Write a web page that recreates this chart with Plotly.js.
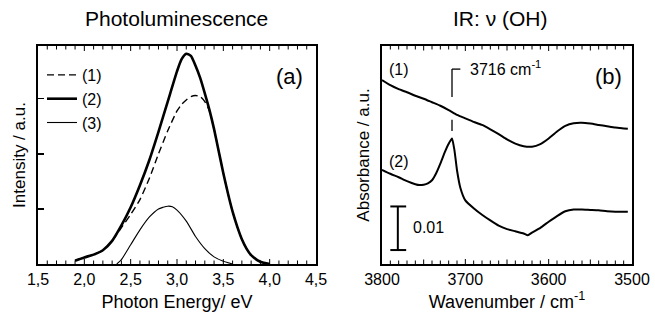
<!DOCTYPE html>
<html>
<head>
<meta charset="utf-8">
<script src="https://cdn.plot.ly/plotly-3.0.1.min.js"></script>
<style>html,body{margin:0;padding:0;background:#fff;}#plot{width:655px;height:322px;}</style>
</head>
<body>
<div id="plot"></div>
<script>
// ---- Panel (a): Photoluminescence ----
const plEnergy2 = [1.90,2.00,2.10,2.20,2.30,2.40,2.50,2.60,2.70,2.80,2.90,3.00,3.05,3.10,3.15,3.20,3.25,3.30,3.35,3.40,3.45,3.50,3.55,3.60,3.65,3.70,3.75,3.80,3.90,4.00];
const plCurve2  = [0.06,0.12,0.17,0.25,0.42,0.70,1.03,1.43,1.88,2.40,2.95,3.50,3.72,3.82,3.78,3.60,3.38,3.10,2.80,2.45,2.05,1.65,1.28,0.95,0.68,0.45,0.28,0.16,0.04,0.00];
const plEnergy1 = [1.90,2.00,2.10,2.20,2.30,2.40,2.50,2.60,2.70,2.80,2.90,3.00,3.05,3.10,3.15,3.20,3.25,3.30,3.35,3.40,3.45,3.50,3.55,3.60,3.65,3.70,3.75,3.80,3.90,4.00];
const plCurve1  = [0.06,0.12,0.17,0.25,0.42,0.66,0.90,1.17,1.55,2.00,2.42,2.78,2.90,2.98,3.04,3.06,3.04,2.95,2.78,2.45,2.05,1.65,1.28,0.95,0.68,0.45,0.28,0.16,0.04,0.00];
const plEnergy3 = [2.35,2.40,2.50,2.60,2.70,2.80,2.85,2.90,2.95,3.00,3.10,3.20,3.30,3.40,3.50,3.60];
const plCurve3  = [0.00,0.08,0.35,0.62,0.85,1.00,1.03,1.05,1.04,0.98,0.78,0.50,0.28,0.13,0.05,0.00];
const plLabels  = ["(1)","(2)","(3)"];
const energyTickVals   = [1.5,2.0,2.5,3.0,3.5,4.0,4.5];
const energyTickLabels = ["1,5","2,0","2,5","3,0","3,5","4,0","4,5"];

// ---- Panel (b): IR nu(OH) ----
const irWave1 = [3800,3790,3780,3770,3760,3750,3740,3730,3720,3710,3700,3690,3680,3670,3660,3650,3640,3630,3620,3610,3600,3590,3580,3570,3560,3550,3540,3530,3520,3510,3505];
const irAbs1  = [0.0422,0.0410,0.0401,0.0394,0.0386,0.0379,0.0371,0.0363,0.0353,0.0342,0.0334,0.0326,0.0319,0.0309,0.0298,0.0286,0.0276,0.0270,0.0269,0.0275,0.0288,0.0304,0.0317,0.0323,0.0324,0.0322,0.0319,0.0316,0.0313,0.0311,0.0310];
const irWave2 = [3800,3790,3780,3770,3760,3755,3750,3745,3740,3735,3730,3725,3720,3716,3713,3710,3706,3700,3690,3680,3670,3660,3650,3640,3630,3625,3620,3610,3600,3590,3580,3570,3560,3550,3540,3530,3520,3505];
const irAbs2  = [0.0216,0.0207,0.0199,0.0190,0.0183,0.0181,0.0182,0.0185,0.0192,0.0208,0.0230,0.0255,0.0276,0.0288,0.0260,0.0215,0.0175,0.0146,0.0128,0.0113,0.0100,0.0088,0.0080,0.0075,0.0070,0.0066,0.0072,0.0083,0.0097,0.0110,0.0121,0.0125,0.0125,0.0124,0.0123,0.0121,0.0120,0.0120];
const waveTickVals   = [3800,3700,3600,3500];
const waveTickLabels = ["3800","3700","3600","3500"];
const peakWave = 3716;
const scaleBar = 0.01;

const FONT = "Liberation Sans, Arial, Helvetica, sans-serif";

// minor subdivisions between labelled ticks
function subdivide(vals, nSub) {
  const out = [];
  for (let i = 0; i < vals.length - 1; i++) {
    const step = (vals[i+1] - vals[i]) / nSub;
    for (let k = 1; k < nSub; k++) out.push({v: +(vals[i] + k*step).toFixed(4), half: (2*k === nSub)});
  }
  return out;
}
const eMinor = subdivide(energyTickVals, 5);
const wMinor = subdivide(waveTickVals, 10);

const traces = [
  {x: plEnergy1, y: plCurve1, xaxis:'x', yaxis:'y', mode:'lines', name: plLabels[0],
   line:{color:'#000', width:1.4, dash:'7px,4px', shape:'spline', smoothing:0.6}},
  {x: plEnergy2, y: plCurve2, xaxis:'x', yaxis:'y', mode:'lines', name: plLabels[1],
   line:{color:'#000', width:2.6, shape:'spline', smoothing:0.6}},
  {x: plEnergy3, y: plCurve3, xaxis:'x', yaxis:'y', mode:'lines', name: plLabels[2],
   line:{color:'#000', width:1.1, shape:'spline', smoothing:0.6}},
  {x: irWave1, y: irAbs1, xaxis:'x2', yaxis:'y2', mode:'lines', showlegend:false,
   line:{color:'#000', width:2, shape:'spline', smoothing:0.5}},
  {x: irWave2, y: irAbs2, xaxis:'x2', yaxis:'y2', mode:'lines', showlegend:false,
   line:{color:'#000', width:2, shape:'spline', smoothing:0.5}}
];

const py = v => (322 - v) / 322;
const px = v => v / 655;
const PLOT_H = 218;

// inward tick marks on top and bottom edges, placed in axis data units
function tickShapes(xref, yref, majors, minors) {
  const s = [];
  const add = (v, len) => {
    const f = len / PLOT_H;
    s.push({type:'line', xref:xref, yref:yref + ' domain', x0:v, x1:v, y0:0, y1:f, line:{color:'#000', width:1}});
    s.push({type:'line', xref:xref, yref:yref + ' domain', x0:v, x1:v, y0:1, y1:1-f, line:{color:'#000', width:1}});
  };
  majors.forEach(v => add(v, 5));
  minors.forEach(m => add(m.v, m.half ? 4.5 : 3.5));
  return s;
}

const axCommon = {showline:true, linewidth:2, linecolor:'#000', showgrid:false, zeroline:false};

const layout = {
  width: 655, height: 322,
  margin: {l:0, r:0, t:0, b:0},
  paper_bgcolor: '#fff', plot_bgcolor: '#fff',
  font: {family: FONT, color: '#000', size: 16},
  showlegend: true,
  legend: {x: px(42), y: py(58), xanchor:'left', yanchor:'top', bgcolor:'rgba(0,0,0,0)',
           font:{size:16}, itemwidth:30, tracegroupgap:0},
  xaxis: Object.assign({}, axCommon, {domain:[px(38), px(316)], range:[1.5,4.5],
          tickmode:'array', tickvals:energyTickVals, ticktext:energyTickLabels,
          ticks:'', mirror:true, tickfont:{size:16},
          title:{text:'Photon Energy/ eV', font:{size:18}, standoff:8}}),
  yaxis: Object.assign({}, axCommon, {domain:[py(264), py(46)], range:[0,3.96], tickvals:[1,2,3],
          showticklabels:false, ticks:'inside', ticklen:6, tickwidth:1.2, tickcolor:'#000', mirror:true,
          title:{text:'Intensity / a.u.', font:{size:17}, standoff:6}}),
  xaxis2: Object.assign({}, axCommon, {domain:[px(382), px(632)], range:[3800,3500], anchor:'y2',
          tickmode:'array', tickvals:waveTickVals, ticktext:waveTickLabels,
          ticks:'', mirror:true, tickfont:{size:16},
          title:{text:'Wavenumber / cm<sup>-1</sup>', font:{size:18}, standoff:8}}),
  yaxis2: Object.assign({}, axCommon, {domain:[py(264), py(46)], range:[0,0.05], anchor:'x2',
          showticklabels:false, ticks:'', mirror:true,
          title:{text:'Absorbance / a.u.', font:{size:17}, standoff:6}}),
  annotations: [
    {xref:'paper', yref:'paper', x:px(177), y:py(19), text:'Photoluminescence', showarrow:false,
     font:{size:21}, xanchor:'center', yanchor:'middle'},
    {xref:'paper', yref:'paper', x:px(500), y:py(19), text:'IR: ν (OH)', showarrow:false,
     font:{size:21}, xanchor:'center', yanchor:'middle'},
    {xref:'paper', yref:'paper', x:px(289), y:py(77), text:'(a)', showarrow:false,
     font:{size:22}, xanchor:'center', yanchor:'middle'},
    {xref:'paper', yref:'paper', x:px(608), y:py(77), text:'(b)', showarrow:false,
     font:{size:22}, xanchor:'center', yanchor:'middle'},
    {xref:'paper', yref:'paper', x:px(399), y:py(70), text:'(1)', showarrow:false,
     font:{size:16}, xanchor:'center', yanchor:'middle'},
    {xref:'paper', yref:'paper', x:px(399), y:py(162), text:'(2)', showarrow:false,
     font:{size:16}, xanchor:'center', yanchor:'middle'},
    {xref:'x2', yref:'y2', x:3697, y:0.0450, text:'3716 cm<sup>-1</sup>', showarrow:false,
     font:{size:16}, xanchor:'left', yanchor:'middle'},
    {xref:'paper', yref:'paper', x:px(411), y:py(227), text:'0.01', showarrow:false,
     font:{size:16}, xanchor:'left', yanchor:'middle'}
  ],
  shapes: [
    // 3716 marker
    {type:'line', xref:'x2', yref:'y2', x0:peakWave, x1:peakWave, y0:0.0447, y1:0.0383, line:{color:'#000', width:1.3}},
    {type:'line', xref:'x2', yref:'y2', x0:peakWave, x1:peakWave-10, y0:0.0447, y1:0.0447, line:{color:'#000', width:1.3}},
    {type:'line', xref:'x2', yref:'y2', x0:peakWave, x1:peakWave, y0:0.0331, y1:0.0305, line:{color:'#000', width:1.3}},
    // scale bar 0.01
    {type:'line', xref:'x2', yref:'y2', x0:3781, x1:3781, y0:0.0032, y1:0.0032+scaleBar, line:{color:'#000', width:2}},
    {type:'line', xref:'x2', yref:'y2', x0:3790, x1:3771, y0:0.0032, y1:0.0032, line:{color:'#000', width:2}},
    {type:'line', xref:'x2', yref:'y2', x0:3790, x1:3771, y0:0.0032+scaleBar, y1:0.0032+scaleBar, line:{color:'#000', width:2}}
  ].concat(
    tickShapes('x', 'y', energyTickVals.slice(1, -1), eMinor),
    tickShapes('x2', 'y2', waveTickVals.slice(1, -1), wMinor)
  )
};

Plotly.newPlot('plot', traces, layout, {displayModeBar:false, staticPlot:true});
</script>
</body>
</html>
